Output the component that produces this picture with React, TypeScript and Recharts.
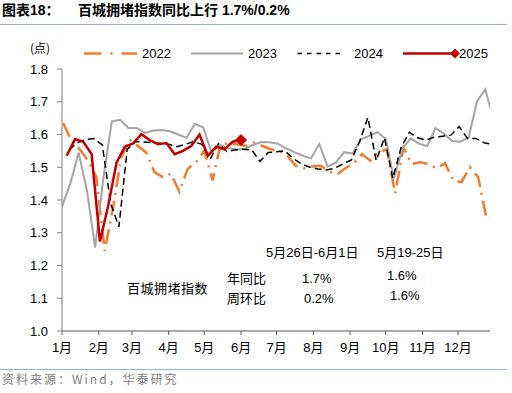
import React from 'react';
import { LineChart, Line, XAxis, YAxis } from 'recharts';

// ---------- data ----------
const MONTH_LABELS = ['1月', '2月', '3月', '4月', '5月', '6月', '7月', '8月', '9月', '10月', '11月', '12月'];
const MONTH_START_DAYS = [0, 31, 59, 90, 120, 151, 181, 212, 243, 273, 304, 334];
const Y_TICKS = [1.0, 1.1, 1.2, 1.3, 1.4, 1.5, 1.6, 1.7, 1.8];

const SERIES_NAMES = ['2022', '2023', '2024', '2025'];
// day-of-year of the first weekly observation of each year
const FIRST_DAYS = [1, 0, 6, 4];

const values2022 = [
  1.635, 1.58, 1.555, 1.52, 1.47, 1.245, 1.375, 1.53, 1.585, 1.565,
  1.545, 1.485, 1.47, 1.48, 1.425, 1.495, 1.515, 1.55, 1.46, 1.575,
  1.57, 1.57, 1.565, 1.575, 1.565, 1.555, 1.55, 1.535, 1.505, 1.497,
  1.502, 1.505, 1.488, 1.478, 1.497, 1.512, 1.54, 1.52, 1.545, 1.555,
  1.42, 1.56, 1.51, 1.515, 1.51, 1.497, 1.512, 1.46, 1.455, 1.5,
  1.47, 1.345, 1.345,
];
const values2023 = [
  1.38, 1.45, 1.545, 1.43, 1.255, 1.47, 1.64, 1.645, 1.62, 1.62,
  1.605, 1.612, 1.614, 1.61, 1.6, 1.59, 1.632, 1.622, 1.547, 1.568,
  1.558, 1.555, 1.555, 1.568, 1.577, 1.576, 1.572, 1.558, 1.546, 1.535,
  1.527, 1.571, 1.502, 1.514, 1.546, 1.542, 1.585, 1.596, 1.607, 1.587,
  1.466, 1.556, 1.588, 1.572, 1.565, 1.619, 1.603, 1.58, 1.578, 1.591,
  1.7, 1.738, 1.645,
];
const values2024 = [
  1.553, 1.575, 1.585, 1.588, 1.568, 1.39, 1.318, 1.555, 1.578, 1.577,
  1.575, 1.573, 1.57, 1.563, 1.57, 1.578, 1.57, 1.525, 1.572, 1.548,
  1.553, 1.555, 1.553, 1.518, 1.545, 1.547, 1.55, 1.527, 1.51, 1.5,
  1.495, 1.492, 1.497, 1.51, 1.522, 1.578, 1.652, 1.52, 1.59, 1.466,
  1.56, 1.607, 1.59, 1.583, 1.592, 1.595, 1.598, 1.624, 1.588, 1.588,
  1.575, 1.57,
];
const values2025 = [
  1.535, 1.586, 1.578, 1.54, 1.273, 1.383, 1.514, 1.563, 1.573, 1.601,
  1.583, 1.57, 1.574, 1.54, 1.55, 1.565, 1.6, 1.535, 1.563, 1.555,
  1.578, 1.583,
];

const ALL_VALUES = [values2022, values2023, values2024, values2025];

const buildSeries = (vals: number[], first: number) =>
  vals.map((v, i) => ({ d: first + 7 * i, v }));

const seriesData = ALL_VALUES.map((vals, k) => buildSeries(vals, FIRST_DAYS[k]));

// ---------- styles ----------
const COLORS = ['#ED7D31', '#A5A5A5', '#000000', '#C00000'];
const LATIN = '"Liberation Sans", Arial, "Noto Sans CJK SC", sans-serif';
const CJK = '"Noto Sans CJK SC", "Liberation Sans", sans-serif';

const RedDot = (props: any) => {
  const { cx, cy, index } = props;
  if (index !== values2025.length - 1 || cx == null || cy == null) {
    return <g key={`d-${index}`} />;
  }
  const s = 5.5;
  return (
    <polygon
      key={`d-${index}`}
      points={`${cx},${cy - s} ${cx + s},${cy} ${cx},${cy + s} ${cx - s},${cy}`}
      fill="#C00000"
      stroke="#C00000"
    />
  );
};

export default function App() {
  return (
    <div style={{ position: 'absolute', left: 0, top: 0, width: 512, height: 393, background: '#fff' }}>
      <LineChart width={512} height={393} margin={{ top: 69, right: 22, bottom: 32, left: 22 }}>
        <XAxis
          type="number"
          dataKey="d"
          domain={[0, 361]}
          allowDataOverflow
          ticks={MONTH_START_DAYS}
          interval={0}
          tickFormatter={(d: number) => MONTH_LABELS[MONTH_START_DAYS.indexOf(d)]}
          tickSize={4}
          tickMargin={8}
          height={30}
          stroke="#595959"
          tick={{ fill: '#000', fontSize: 13, fontFamily: LATIN }}
        />
        <YAxis
          type="number"
          domain={[1.0, 1.8]}
          allowDataOverflow
          ticks={Y_TICKS}
          interval={0}
          tickFormatter={(v: number) => v.toFixed(1)}
          width={40}
          tickSize={5}
          tickMargin={9}
          stroke="#808080"
          tick={{ fill: '#000', fontSize: 13, fontFamily: LATIN }}
        />
        <Line
          data={seriesData[0]}
          dataKey="v"
          name={SERIES_NAMES[0]}
          type="linear"
          stroke={COLORS[0]}
          strokeWidth={2.5}
          strokeDasharray="15 6 2 6"
          dot={false}
          activeDot={false}
          isAnimationActive={false}
        />
        <Line
          data={seriesData[1]}
          dataKey="v"
          name={SERIES_NAMES[1]}
          type="linear"
          stroke={COLORS[1]}
          strokeWidth={2}
          dot={false}
          activeDot={false}
          isAnimationActive={false}
        />
        <Line
          data={seriesData[2]}
          dataKey="v"
          name={SERIES_NAMES[2]}
          type="linear"
          stroke={COLORS[2]}
          strokeWidth={1.5}
          strokeDasharray="7 4"
          dot={false}
          activeDot={false}
          isAnimationActive={false}
        />
        <Line
          data={seriesData[3]}
          dataKey="v"
          name={SERIES_NAMES[3]}
          type="linear"
          stroke={COLORS[3]}
          strokeWidth={2.5}
          dot={RedDot}
          activeDot={false}
          isAnimationActive={false}
        />
      </LineChart>

      <svg
        width={512}
        height={393}
        style={{ position: 'absolute', left: 0, top: 0, pointerEvents: 'none' }}
      >
        {/* title */}
        <text x={2} y={15} fontSize={14} fontWeight="bold" fontFamily={LATIN} fill="#000">图表18：</text>
        <text x={78} y={15} fontSize={14} fontWeight="bold" fontFamily={LATIN} fill="#000">百城拥堵指数同比上行 1.7%/0.2%</text>
        <line x1={0} y1={24.5} x2={507} y2={24.5} stroke="#95B3D7" strokeWidth={1.2} />

        {/* unit */}
        <text x={30} y={53} fontSize={12} fontFamily={CJK} fill="#000">(点)</text>

        {/* legend */}
        <line x1={84} y1={53.5} x2={137} y2={53.5} stroke={COLORS[0]} strokeWidth={2.5} strokeDasharray="17.5 9 2 9" />
        <text x={142} y={58} fontSize={13} fontFamily={LATIN} fill="#000">{SERIES_NAMES[0]}</text>
        <line x1={191} y1={53.5} x2={243} y2={53.5} stroke={COLORS[1]} strokeWidth={2} />
        <text x={248} y={58} fontSize={13} fontFamily={LATIN} fill="#000">{SERIES_NAMES[1]}</text>
        <line x1={297.5} y1={53.5} x2={340} y2={53.5} stroke={COLORS[2]} strokeWidth={1.5} strokeDasharray="4.5 5" />
        <text x={354} y={58} fontSize={13} fontFamily={LATIN} fill="#000">{SERIES_NAMES[2]}</text>
        <line x1={403} y1={53.5} x2={455} y2={53.5} stroke={COLORS[3]} strokeWidth={2.5} />
        <polygon points="455,48.5 460,53.5 455,58.5 450,53.5" fill={COLORS[3]} />
        <text x={459} y={58} fontSize={13} fontFamily={LATIN} fill="#000">{SERIES_NAMES[3]}</text>

        {/* annotation table */}
        <text x={266} y={256.5} fontSize={13} fontFamily={LATIN} fill="#000">5月26日-6月1日</text>
        <text x={377} y={256.5} fontSize={13} fontFamily={LATIN} fill="#000">5月19-25日</text>
        <text x={127} y={293} fontSize={13} fontFamily={CJK} letterSpacing={0.5} fill="#000">百城拥堵指数</text>
        <text x={227} y={283} fontSize={13} fontFamily={CJK} fill="#000">年同比</text>
        <text x={227} y={303} fontSize={13} fontFamily={CJK} fill="#000">周环比</text>
        <text x={302} y={282.5} fontSize={13} fontFamily={LATIN} fill="#000">1.7%</text>
        <text x={387} y={279.5} fontSize={13} fontFamily={LATIN} fill="#000">1.6%</text>
        <text x={304} y={302.5} fontSize={13} fontFamily={LATIN} fill="#000">0.2%</text>
        <text x={390} y={299.5} fontSize={13} fontFamily={LATIN} fill="#000">1.6%</text>

        {/* footer */}
        <line x1={0} y1={369.5} x2={507} y2={369.5} stroke="#95B3D7" strokeWidth={1.2} />
        <text x={2} y={384} fontSize={12} fontFamily={CJK} letterSpacing={2} fill="#808080">资料来源：Wind，华泰研究</text>
      </svg>
    </div>
  );
}
